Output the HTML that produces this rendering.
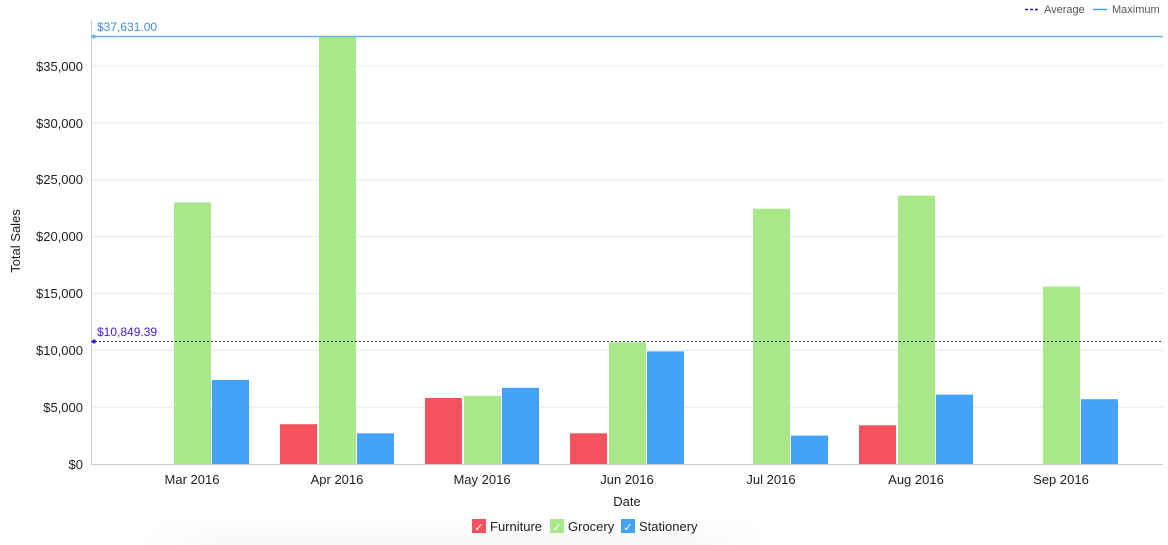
<!DOCTYPE html><html><head><style>body{margin:0;background:#fff}svg{display:block;font-family:"Liberation Sans",sans-serif}</style></head><body>
<svg width="1168" height="545" xmlns="http://www.w3.org/2000/svg">
<defs><linearGradient id="sh" x1="0" y1="0" x2="0" y2="1"><stop offset="0" stop-color="#fff"/><stop offset="1" stop-color="#f6f6f6"/></linearGradient>
<linearGradient id="sx" x1="0" y1="0" x2="1" y2="0"><stop offset="0" stop-color="#fff" stop-opacity="1"/><stop offset="0.15" stop-color="#fff" stop-opacity="0"/><stop offset="0.85" stop-color="#fff" stop-opacity="0"/><stop offset="1" stop-color="#fff" stop-opacity="1"/></linearGradient></defs>
<rect x="140" y="515" width="630" height="30" fill="url(#sh)"/>
<rect x="140" y="515" width="630" height="30" fill="url(#sx)"/>
<g stroke="#e8e8e8" stroke-width="1">
<line x1="91" x2="1163" y1="407.1" y2="407.1"/><line x1="91" x2="1163" y1="350.3" y2="350.3"/><line x1="91" x2="1163" y1="293.4" y2="293.4"/><line x1="91" x2="1163" y1="236.6" y2="236.6"/><line x1="91" x2="1163" y1="179.7" y2="179.7"/><line x1="91" x2="1163" y1="122.9" y2="122.9"/><line x1="91" x2="1163" y1="66" y2="66"/>
</g>
<line x1="91.5" x2="91.5" y1="20" y2="464" stroke="#ccc"/>
<line x1="91" x2="1163" y1="464.5" y2="464.5" stroke="#ccc"/>
<g font-size="13" fill="#222" text-anchor="end">
<text x="83" y="469">$0</text><text x="83" y="412">$5,000</text><text x="83" y="355">$10,000</text><text x="83" y="298">$15,000</text><text x="83" y="241">$20,000</text><text x="83" y="184">$25,000</text><text x="83" y="71">$35,000</text><text x="83" y="128">$30,000</text>
</g>
<text transform="translate(20,241) rotate(-90)" font-size="13" fill="#222" text-anchor="middle">Total Sales</text>
<g fill="#f5515f">
<rect x="280" y="424.2" width="37" height="39.8"/><rect x="425" y="398" width="37" height="66"/><rect x="570" y="433.3" width="37" height="30.7"/><rect x="859" y="425.3" width="37" height="38.7"/>
</g>
<g fill="#a8e88a">
<rect x="174" y="202.5" width="37" height="261.5"/><rect x="319" y="36" width="37" height="428"/><rect x="464" y="395.8" width="37" height="68.2"/><rect x="609" y="342.3" width="37" height="121.7"/><rect x="753" y="208.7" width="37" height="255.3"/><rect x="898" y="195.6" width="37" height="268.4"/><rect x="1043" y="286.6" width="37" height="177.4"/>
</g>
<g fill="#44a3f7">
<rect x="212" y="379.9" width="37" height="84.1"/><rect x="357" y="433.3" width="37" height="30.7"/><rect x="502" y="387.8" width="37" height="76.2"/><rect x="647" y="351.4" width="37" height="112.6"/><rect x="791" y="435.6" width="37" height="28.4"/><rect x="936" y="394.6" width="37" height="69.4"/><rect x="1081" y="399.2" width="37" height="64.8"/>
</g>
<line x1="91" x2="1163" y1="36.5" y2="36.5" stroke="#6ab4f5" stroke-width="1.5"/>
<circle cx="94" cy="36.5" r="2" fill="#6ab4f5"/>
<text x="97" y="31" font-size="12" fill="#3a8fe0">$37,631.00</text>
<line x1="91" x2="1163" y1="341.5" y2="341.5" stroke="#333" stroke-dasharray="2,2"/>
<circle cx="94" cy="341.5" r="2" fill="#3b1fe0"/>
<text x="97" y="336" font-size="12" fill="#3b1fe0">$10,849.39</text>
<g font-size="13" fill="#222" text-anchor="middle">
<text x="192" y="484">Mar 2016</text><text x="337" y="484">Apr 2016</text><text x="482" y="484">May 2016</text><text x="627" y="484">Jun 2016</text><text x="771" y="484">Jul 2016</text><text x="916" y="484">Aug 2016</text><text x="1061" y="484">Sep 2016</text>
<text x="627" y="506">Date</text>
</g>
<line x1="1025" x2="1039" y1="9.5" y2="9.5" stroke="#2a0fd0" stroke-width="1.5" stroke-dasharray="3,2"/>
<text x="1044" y="13" font-size="11" fill="#555">Average</text>
<line x1="1093" x2="1107" y1="9.5" y2="9.5" stroke="#44a3f7" stroke-width="1.5"/>
<text x="1112" y="13" font-size="11" fill="#555">Maximum</text>
<g font-size="13" fill="#222">
<rect x="472" y="519" width="14" height="14" fill="#f5515f"/><text x="479" y="531" fill="#fff" font-size="11" text-anchor="middle">✓</text><text x="490" y="531">Furniture</text>
<rect x="550" y="519" width="14" height="14" fill="#a8e88a"/><text x="557" y="531" fill="#fff" font-size="11" text-anchor="middle">✓</text><text x="568" y="531">Grocery</text>
<rect x="621" y="519" width="14" height="14" fill="#44a3f7"/><text x="628" y="531" fill="#fff" font-size="11" text-anchor="middle">✓</text><text x="639" y="531">Stationery</text>
</g>
</svg></body></html>
